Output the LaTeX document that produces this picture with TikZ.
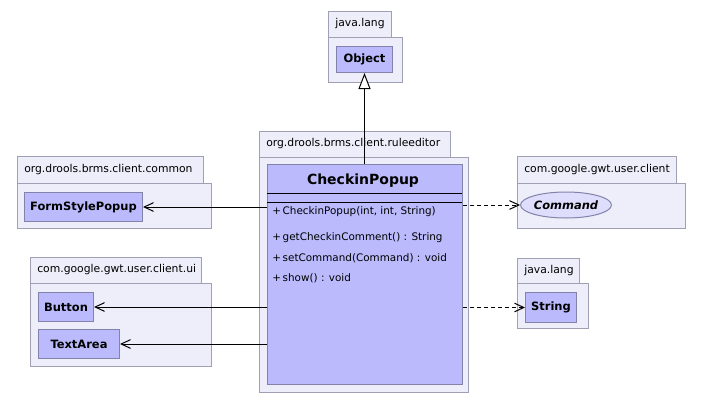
\documentclass[tikz,border=0pt]{standalone}
\usepackage{fontspec}
\setmainfont{DejaVu Sans}
\usetikzlibrary{arrows.meta,shapes.geometric}
\definecolor{pkgfill}{RGB}{238,238,250}
\definecolor{pkgdraw}{RGB}{160,160,180}
\definecolor{clsfill}{RGB}{186,186,252}
\definecolor{clsdraw}{RGB}{130,130,170}
\definecolor{ifill}{RGB}{222,222,252}
\tikzset{
  pkgtab/.style={draw=pkgdraw,fill=pkgfill,line width=0.75pt,anchor=north west,inner sep=0pt},
  pkgbody/.style={draw=pkgdraw,fill=pkgfill,line width=0.75pt,anchor=north west,inner sep=0pt},
  pkglabel/.style={anchor=west,font=\fontsize{8.1}{10}\selectfont,inner sep=0pt},
  cls/.style={draw=clsdraw,fill=clsfill,line width=0.75pt,anchor=north west,inner sep=0pt,font=\bfseries\fontsize{8.6}{10}\selectfont},
  iface/.style={ellipse,draw=clsdraw,fill=ifill,line width=0.75pt,inner sep=0pt,font=\bfseries\itshape\fontsize{8.6}{10}\selectfont},
  meth/.style={anchor=west,inner sep=0pt,font=\fontsize{7.8}{9}\selectfont},
  assoc/.style={line width=0.75pt,-{Straight Barb[length=7pt,width=6.5pt,line width=0.75pt]}},
  dep/.style={assoc,dash pattern=on 3pt off 2.25pt},
  inherit/.style={line width=0.75pt,-{Triangle[open,length=12pt,width=9pt,fill=white]}}
}
\begin{document}
\begin{tikzpicture}[x=0.75pt,y=-0.75pt]
\useasboundingbox[fill=white] (0,0) rectangle (703,404);
% java.lang (Object)
\node[pkgtab,minimum width=47.25pt,minimum height=19.5pt] (p1t) at (328,11) {};
\node[pkgbody,minimum width=55.5pt,minimum height=33.75pt] (p1b) at (328,37) {};
\node[pkglabel] (p1l) at (335,24) {java.lang};
\node[cls,minimum width=42pt,minimum height=19.5pt] (obj) at (336,46) {Object};
% ruleeditor
\node[pkgtab,minimum width=143.25pt,minimum height=19.5pt] (p2t) at (259,131) {};
\node[pkgbody,minimum width=156.75pt,minimum height=176.25pt] (p2b) at (259,157) {};
\node[pkglabel] (p2l) at (266,144) {org.drools.brms.client.ruleeditor};
\node[cls,minimum width=146.25pt,minimum height=165pt] (cls) at (267,164) {};
\node[font=\bfseries\fontsize{10.5}{13}\selectfont,inner sep=0pt] (clsname) at (363,181) {CheckinPopup};
\draw[line width=0.75pt] (267,193) -- (462,193) (267,202) -- (462,202);
\node[meth] (m1) at (272,212) {+\,CheckinPopup(int, int, String)};
\node[meth] (m2) at (272,238) {+\,getCheckinComment() : String};
\node[meth] (m3) at (272,258) {+\,setCommand(Command) : void};
\node[meth] (m4) at (272,278) {+\,show() : void};
% common
\node[pkgtab,minimum width=139.5pt,minimum height=20.25pt] (p3t) at (17,156) {};
\node[pkgbody,minimum width=145.5pt,minimum height=33.75pt] (p3b) at (17,183) {};
\node[pkglabel] (p3l) at (24,170) {org.drools.brms.client.common};
\node[cls,minimum width=88.5pt,minimum height=21.75pt] (fsp) at (24,192) {FormStylePopup};
% ui
\node[pkgtab,minimum width=128.25pt,minimum height=19.5pt] (p4t) at (30,257) {};
\node[pkgbody,minimum width=135.75pt,minimum height=62.25pt] (p4b) at (30,283) {};
\node[pkglabel] (p4l) at (37,270) {com.google.gwt.user.client.ui};
\node[cls,minimum width=41.25pt,minimum height=21.75pt] (btn) at (38,292) {Button};
\node[cls,minimum width=60.75pt,minimum height=21.75pt] (ta) at (38,329) {TextArea};
% client
\node[pkgtab,minimum width=119.25pt,minimum height=20.25pt] (p5t) at (517,156) {};
\node[pkgbody,minimum width=126pt,minimum height=33.75pt] (p5b) at (517,183) {};
\node[pkglabel] (p5l) at (524,170) {com.google.gwt.user.client};
\node[iface,minimum width=63pt,minimum height=19.5pt] (cmd) at (566,205) {Command};
% java.lang (String)
\node[pkgtab,minimum width=46.5pt,minimum height=18.75pt] (p6t) at (517,258) {};
\node[pkgbody,minimum width=53.25pt,minimum height=33.75pt] (p6b) at (517,283) {};
\node[pkglabel] (p6l) at (524,271) {java.lang};
\node[cls,minimum width=38.25pt,minimum height=22.5pt] (str) at (525,292) {String};
% connectors
\draw[inherit] (obj.south |- cls.north) -- (obj.south);
\draw[assoc] (fsp.east -| cls.west) -- (fsp.east);
\draw[assoc] (btn.east -| cls.west) -- (btn.east);
\draw[assoc] (ta.east -| cls.west) -- (ta.east);
\draw[dep] (cmd.west -| cls.east) -- (cmd.west);
\draw[dep] (str.west -| cls.east) -- (str.west);
\end{tikzpicture}
\end{document}
